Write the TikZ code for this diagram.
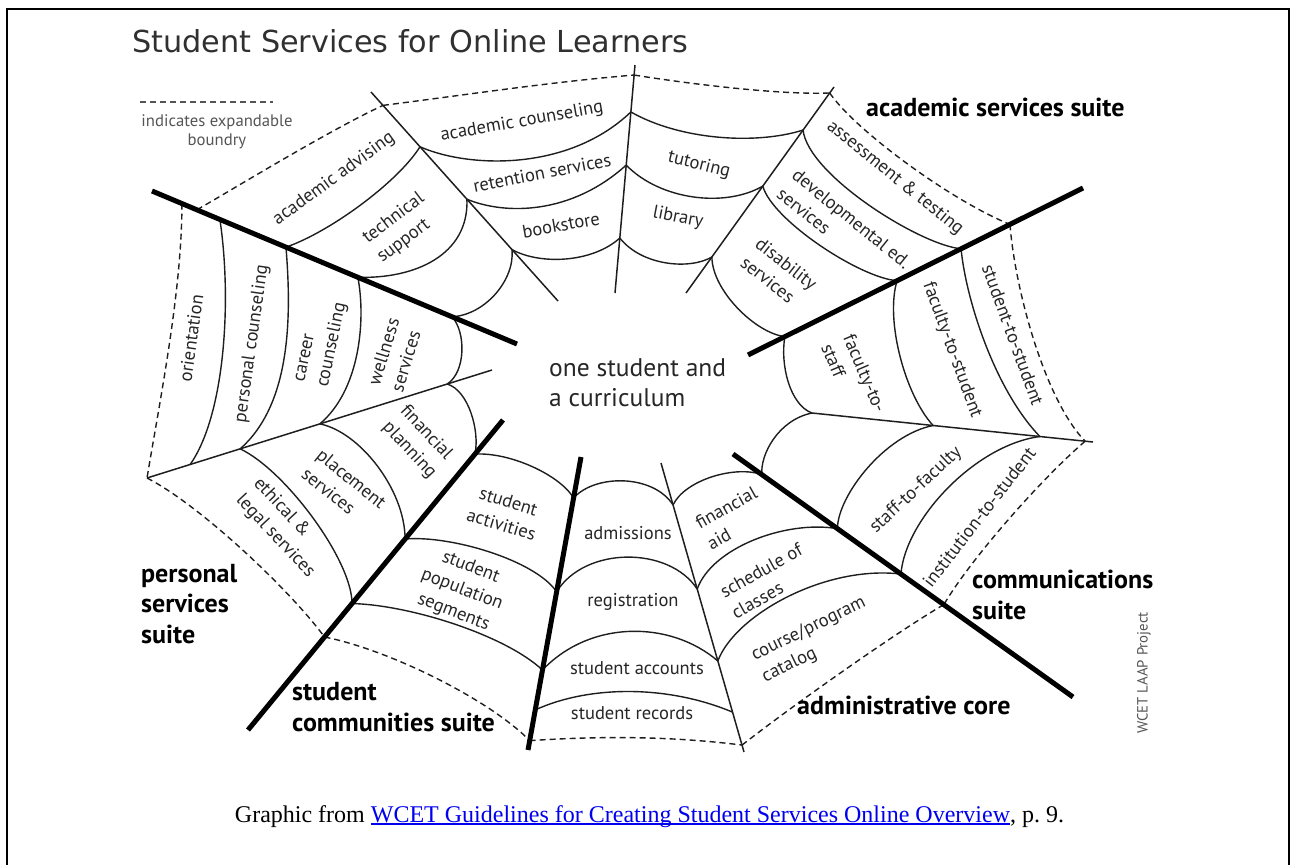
\documentclass[tikz,border=0pt]{standalone}
\usepackage{fontspec}
\setmainfont{PT Sans}
\newfontfamily\headfont{DejaVu Sans}
\newfontfamily\capfont{Liberation Serif}
\usetikzlibrary{calc}

\definecolor{ink}{HTML}{1E1E1E}
\definecolor{txt}{HTML}{262626}
\definecolor{softgrey}{HTML}{555555}
\definecolor{headgrey}{HTML}{303030}
\definecolor{linkblue}{HTML}{0000EE}

% underlined hyperlink-style text
\newcommand\linkul[1]{\setbox0=\hbox{#1}\rlap{\rule[-2.6pt]{\wd0}{1.7pt}}\box0}

\tikzset{
  thread/.style={draw=ink, line width=1.4pt},
  spokeline/.style={draw=ink, line width=1.5pt},
  bigspoke/.style={draw=black, line width=5pt},
  boundary/.style={draw=ink, line width=1.4pt, dash pattern=on 6pt off 4pt},
  lbl/.style={text=txt, font=\fontsize{18.5}{24}\selectfont, inner sep=0pt, align=center},
  suite/.style={text=black, font=\fontsize{26}{30.5}\selectfont\bfseries, inner sep=0pt, align=left, anchor=west},
}

\begin{document}
\begin{tikzpicture}[x=1pt,y=-1pt]
\useasboundingbox (0,0) rectangle (1291,865);

% page frame (open at the bottom)
\coordinate (fr1) at (7,865);
\coordinate (fr2) at (7,9);
\coordinate (fr3) at (1289,9);
\coordinate (fr4) at (1289,865);
\draw[line width=2pt] (fr1) -- (fr2) -- (fr3) -- (fr4);

% ---------- spoke end points ----------
\coordinate (tlA) at (152,191);  \coordinate (tlB) at (517,344);
\coordinate (trA) at (1083,188); \coordinate (trB) at (748,355);
\coordinate (brA) at (733,454);  \coordinate (brB) at (1073,697);
\coordinate (swA) at (503,420);  \coordinate (swB) at (248,730);
\coordinate (t6A) at (581,457);  \coordinate (t6B) at (528,750);
\coordinate (s2A) at (371,92);   \coordinate (s2B) at (558,301);
\coordinate (s3A) at (635,65);   \coordinate (s3B) at (615,293);
\coordinate (s4A) at (834,87);   \coordinate (s4B) at (686,293);
\coordinate (rA)  at (812,413);  \coordinate (rB)  at (1093,442);
\coordinate (s5A) at (661,463);  \coordinate (s5B) at (744,752);
\coordinate (lA)  at (147,478);  \coordinate (lB)  at (492,370);

% ---------- web junctions on the spokes ----------
\coordinate (TLa) at ($(tlA)!0.082!(tlB)$);
\coordinate (TLb) at ($(tlA)!0.123!(tlB)$);
\coordinate (TL2) at ($(tlA)!0.186!(tlB)$);
\coordinate (TL3) at ($(tlA)!0.367!(tlB)$);
\coordinate (TL4) at ($(tlA)!0.564!(tlB)$);
\coordinate (TL5) at ($(tlA)!0.822!(tlB)$);

\coordinate (S2d) at ($(s2A)!0.064!(s2B)$);
\coordinate (S2a) at ($(s2A)!0.262!(s2B)$);
\coordinate (S2b) at ($(s2A)!0.513!(s2B)$);
\coordinate (S2c) at ($(s2A)!0.754!(s2B)$);

\coordinate (S3d) at ($(s3A)!0.044!(s3B)$);
\coordinate (S3a) at ($(s3A)!0.206!(s3B)$);
\coordinate (S3b) at ($(s3A)!0.439!(s3B)$);
\coordinate (S3c) at ($(s3A)!0.759!(s3B)$);

\coordinate (S4d) at ($(s4A)!0.029!(s4B)$);
\coordinate (S4a) at ($(s4A)!0.209!(s4B)$);
\coordinate (S4b) at ($(s4A)!0.481!(s4B)$);
\coordinate (S4c) at ($(s4A)!0.825!(s4B)$);

\coordinate (TR1) at ($(trA)!0.218!(trB)$);
\coordinate (TR2) at ($(trA)!0.364!(trB)$);
\coordinate (TR3) at ($(trA)!0.555!(trB)$);
\coordinate (TR4) at ($(trA)!0.890!(trB)$);

\coordinate (R0) at (rA);
\coordinate (R1) at ($(rA)!0.431!(rB)$);
\coordinate (R2) at ($(rA)!0.811!(rB)$);
\coordinate (R3) at ($(rA)!0.972!(rB)$);

\coordinate (BR1) at ($(brA)!0.085!(brB)$);
\coordinate (BR2) at ($(brA)!0.307!(brB)$);
\coordinate (BR3) at ($(brA)!0.494!(brB)$);
\coordinate (BR4) at ($(brA)!0.620!(brB)$);

\coordinate (S5a) at ($(s5A)!0.145!(s5B)$);
\coordinate (S5b) at ($(s5A)!0.436!(s5B)$);
\coordinate (S5c) at ($(s5A)!0.685!(s5B)$);
\coordinate (S5e) at ($(s5A)!0.862!(s5B)$);
\coordinate (S5d) at ($(s5A)!0.976!(s5B)$);

\coordinate (T6a) at ($(t6A)!0.140!(t6B)$);
\coordinate (T6b) at ($(t6A)!0.460!(t6B)$);
\coordinate (T6c) at ($(t6A)!0.727!(t6B)$);
\coordinate (T6e) at ($(t6A)!0.863!(t6B)$);
\coordinate (T6d) at ($(t6A)!0.968!(t6B)$);

\coordinate (SW1) at ($(swA)!0.110!(swB)$);
\coordinate (SW2) at ($(swA)!0.384!(swB)$);
\coordinate (SW3) at ($(swA)!0.592!(swB)$);
\coordinate (SWd) at ($(swA)!0.700!(swB)$);

\coordinate (L0) at (lA);
\coordinate (L1) at ($(lA)!0.125!(lB)$);
\coordinate (L2) at ($(lA)!0.270!(lB)$);
\coordinate (L3) at ($(lA)!0.501!(lB)$);
\coordinate (L4) at ($(lA)!0.870!(lB)$);

% ---------- web threads ----------
% academic services: upper left
\draw[thread] (TL3) .. controls (330,232) and (398,182) .. (S2a);
\draw[thread] (TL4) .. controls (415,279) and (469,255) .. (S2b);
\draw[thread] (TL5) .. controls (485,315) and (515,280) .. (S2c);
\draw[boundary] (TLb) .. controls (240,185) and (330,130) .. (S2d);
% academic services: top middle
\draw[thread] (S2a) .. controls (468,168) and (568,172) .. (S3a);
\draw[thread] (S2b) .. controls (505,215) and (571,215) .. (S3b);
\draw[thread] (S2c) .. controls (540,265) and (592,263) .. (S3c);
\draw[boundary] (S2d) .. controls (465,95) and (550,82) .. (S3d);
% academic services: top right
\draw[thread] (S3a) .. controls (680,140) and (756,145) .. (S4a);
\draw[thread] (S3b) .. controls (660,200) and (725,208) .. (S4b);
\draw[thread] (S3c) .. controls (642,266) and (690,270) .. (S4c);
\draw[boundary] (S3d) .. controls (690,84) and (780,95) .. (S4d);
% academic services: right
\draw[thread] (S4a) .. controls (808,175) and (920,245) .. (TR2);
\draw[thread] (S4b) .. controls (772,220) and (860,278) .. (TR3);
\draw[thread] (S4c) .. controls (712,290) and (755,333) .. (TR4);
\draw[boundary] (S4d) .. controls (855,130) and (950,200) .. (TR1);
% communications: upper
\draw[thread] (TR4) .. controls (780,365) and (790,405) .. (R0);
\draw[thread] (TR3) .. controls (885,320) and (905,395) .. (R1);
\draw[thread] (TR2) .. controls (966,300) and (995,390) .. (R2);
\draw[boundary] (TR1) .. controls (1015,290) and (1045,400) .. (R3);
% communications: lower
\draw[thread] (R0) .. controls (778,420) and (760,455) .. (BR1);
\draw[thread] (R1) .. controls (885,435) and (838,495) .. (BR2);
\draw[thread] (R2) .. controls (975,445) and (905,520) .. (BR3);
\draw[boundary] (R3) .. controls (1040,480) and (970,560) .. (BR4);
% administrative core: right
\draw[thread] (S5a) .. controls (685,480) and (735,465) .. (BR1);
\draw[thread] (S5b) .. controls (712,548) and (785,520) .. (BR2);
\draw[thread] (S5c) .. controls (735,615) and (825,565) .. (BR3);
\draw[boundary] (BR4) .. controls (900,630) and (800,700) .. (S5d);
% administrative core: centre
\draw[thread] (T6a) .. controls (595,474) and (653,474) .. (S5a);
\draw[thread] (T6b) .. controls (585,546) and (669,546) .. (S5b);
\draw[thread] (T6c) .. controls (590,620) and (670,620) .. (S5c);
\draw[thread] (T6e) .. controls (590,685) and (668,685) .. (S5e);
\draw[boundary] (T6d) .. controls (600,736) and (670,736) .. (S5d);
% student communities
\draw[thread] (SW1) .. controls (510,452) and (560,475) .. (T6a);
\draw[thread] (SW2) .. controls (450,535) and (535,560) .. (T6b);
\draw[thread] (SW3) .. controls (410,605) and (505,635) .. (T6c);
\draw[boundary] (SWd) .. controls (390,650) and (490,700) .. (T6d);
% personal services: lower
\draw[thread] (L4) .. controls (468,390) and (480,430) .. (SW1);
\draw[thread] (L3) .. controls (360,432) and (405,490) .. (SW2);
\draw[thread] (L2) .. controls (285,470) and (352,560) .. (SW3);
\draw[boundary] (L0) .. controls (200,505) and (290,590) .. (SWd);
% personal services: upper
\draw[thread] (TL2) .. controls (232,300) and (225,415) .. (L1);
\draw[thread] (TL3) .. controls (292,320) and (290,405) .. (L2);
\draw[thread] (TL4) .. controls (366,320) and (360,390) .. (L3);
\draw[thread] (TL5) .. controls (466,332) and (466,372) .. (L4);
\draw[boundary] (TLa) .. controls (182,290) and (160,400) .. (L0);

% ---------- spokes ----------
\draw[spokeline] (s2A) -- (s2B);
\draw[spokeline] (s3A) -- (s3B);
\draw[spokeline] (s4A) -- (s4B);
\draw[spokeline] (rA) -- (rB);
\draw[spokeline] (s5A) -- (s5B);
\draw[spokeline] (lA) -- (lB);
\draw[bigspoke] (tlA) -- (tlB);
\draw[bigspoke] (trA) -- (trB);
\draw[bigspoke] (brA) -- (brB);
\draw[bigspoke] (swA) -- (swB);
\draw[bigspoke] (t6A) -- (t6B);

% ---------- service labels ----------
\node[lbl, rotate=10]  (acadCouns)  at (522,122) {academic counseling};
\node[lbl, rotate=11]  (retention)  at (542,173) {retention services};
\node[lbl, rotate=10]  (bookstore)  at (561,225) {bookstore};
\node[lbl, rotate=-14] (tutoring)   at (699,165) {tutoring};
\node[lbl, rotate=-11] (library)    at (678,218) {library};
\node[lbl, rotate=36]  (acadAdv)    at (334,179) {academic advising};
\node[lbl, rotate=37, align=left] (techSup) at (401,228) {technical\\support};
\node[lbl, rotate=-39] (assess)     at (895,178) {assessment \& testing};
\node[lbl, rotate=-39, align=left] (develop) at (844,228) {developmental ed.\\services};
\node[lbl, rotate=-38, align=left] (disab) at (779,273) {disability\\services};

\node[lbl, rotate=-67, align=left] (facStaff) at (854,378) {faculty-to-\\staff};
\node[lbl, rotate=-70] (facStud)    at (952,350) {faculty-to-student};
\node[lbl, rotate=-70] (studStud)   at (1013,335) {student-to-student};
\node[lbl, rotate=43]  (staffFac)   at (916,490) {staff-to-faculty};
\node[lbl, rotate=52]  (instStud)   at (979,517) {institution-to-student};

\node[lbl, rotate=29, align=left] (finAid)   at (732,518) {financial\\aid};
\node[lbl, rotate=29, align=left] (schedule) at (767,581) {schedule of\\classes};
\node[lbl, rotate=26, align=left] (catalog)  at (814,640) {course/program\\catalog};
\node[lbl] (admissions) at (628,533) {admissions};
\node[lbl] (registr)    at (633,602) {registration};
\node[lbl] (accounts)   at (637,668) {student accounts};
\node[lbl] (records)    at (632,713) {student records};

\node[lbl, rotate=-17] (activities) at (505,513) {student\\activities};
\node[lbl, rotate=-21] (population) at (462,590) {student\\population\\segments};

\node[lbl, rotate=-47, align=left] (ethical)   at (284,528) {ethical \&\\legal services};
\node[lbl, rotate=-39, align=left] (placement) at (344,488) {placement\\services};
\node[lbl, rotate=-47, align=left] (finPlan)   at (418,442) {financial\\planning};
\node[lbl, rotate=82] (orient)   at (191,338) {orientation};
\node[lbl, rotate=82] (persCoun) at (252,344) {personal counseling};
\node[lbl, rotate=78, align=left] (career)   at (322,343) {career\\counseling};
\node[lbl, rotate=73, align=left] (wellness) at (395,355) {wellness\\services};

% hub
\node[lbl, align=left, anchor=west, font=\fontsize{25.5}{30}\selectfont] (hub) at (549,383) {one student and\\a curriculum};

% ---------- suite names ----------
\node[suite] (suiteAcad)  at (866,107) {academic services suite};
\node[suite] (suitePers)  at (141,604) {personal\\services\\suite};
\node[suite] (suiteComm)  at (292,707) {student\\communities suite};
\node[suite] (suiteCom2)  at (972,595) {communications\\suite};
\node[suite] (suiteAdmin) at (797,705) {administrative core};

% credit
\node[text=softgrey, font=\fontsize{14.8}{16}\selectfont, rotate=90, inner sep=0pt] (credit) at (1144,673) {WCET LAAP Project};

% legend
\coordinate (legA) at (140,102);
\coordinate (legB) at (273,102);
\draw[boundary, draw=softgrey] (legA) -- (legB);
\node[lbl, text=softgrey, font=\fontsize{16.7}{19}\selectfont] (legend) at (217,132) {indicates expandable\\boundry};

% title
\node[anchor=base west, inner sep=0pt, text=headgrey] (title) at (132,52) {\resizebox{556pt}{!}{\headfont Student Services for Online Learners}};

% caption
\node[anchor=base, inner sep=0pt, font=\capfont\fontsize{24}{28}\selectfont] (caption) at (649.5,822)
  {Graphic from {\color{linkblue}\linkul{WCET Guidelines for Creating Student Services Online Overview}}, p.\ 9.};

\end{tikzpicture}
\end{document}
